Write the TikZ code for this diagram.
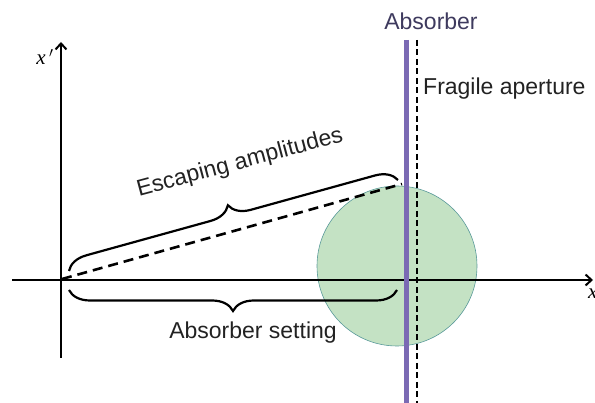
\documentclass[tikz,border=0pt]{standalone}
\usepackage{fontspec}
\setmainfont{Liberation Sans}
\newfontfamily\serifit{Liberation Serif}
\usetikzlibrary{arrows.meta,decorations.pathreplacing}
\definecolor{txt}{HTML}{222222}
\definecolor{abscol}{HTML}{3E3A5E}
\definecolor{barcol}{HTML}{7B6AB4}
\definecolor{circfill}{HTML}{C4E2C4}
\definecolor{circedge}{HTML}{5A9A9A}
\tikzset{
  axis/.style={line width=2pt,-{Straight Barb[length=6pt,width=11pt,line width=2pt]}},
  bracestyle/.style={line width=2.2pt,decorate,decoration={brace,amplitude=21pt,raise=0pt}},
  lbl/.style={font=\fontsize{23}{26}\selectfont,text=txt,inner sep=0pt},
  dashline/.style={line width=2.6pt,dash pattern=on 10pt off 6pt},
}
\begin{document}
\begin{tikzpicture}[x=1pt,y=-1pt]
\useasboundingbox (0,0) rectangle (595,403);
% circle
\node[circle,minimum size=160pt,inner sep=0pt,fill=circfill,draw=circedge,line width=0.6pt] (beam) at (397,266) {};
% axes
\coordinate (xs) at (12,280);
\coordinate (xe) at (593,280);
\coordinate (ys) at (61,358);
\coordinate (ye) at (61,42);
\draw[axis] (xs) -- (xe);
\draw[axis] (ys) -- (ye);
\node[font=\serifit\itshape\fontsize{21}{23}\selectfont,inner sep=0pt] (xplab) at (45,57) {x\,$'$};
\node[font=\serifit\itshape\fontsize{21}{23}\selectfont,inner sep=0pt,anchor=west] (xlab) at (588,294) {x};
% absorber bar and fragile aperture
\coordinate (bt) at (406,40);
\coordinate (bb) at (406,403);
\draw[barcol,line width=5pt] (bt) -- (bb);
\coordinate (dt) at (417,40);
\coordinate (db) at (417,403);
\draw[black,line width=2.2pt,dash pattern=on 6pt off 3.5pt] (dt) -- (db);
\node[lbl,text=abscol] (abs) at (431,21) {Absorber};
\node[lbl,anchor=west] (frag) at (423,89) {Fragile aperture};
% escaping amplitude dashed line
\coordinate (o) at (62,279);
\coordinate (top) at (402,184);
\draw[dashline] (o) -- (top);
% braces
\coordinate (b1s) at (69,271);
\coordinate (b1e) at (398,180);
\draw[bracestyle] (b1s) -- (b1e);
\node[lbl,rotate=15] (esc) at (240,163) {Escaping amplitudes};
\coordinate (b2s) at (397,290);
\coordinate (b2e) at (69,290);
\draw[bracestyle] (b2s) -- (b2e);
\node[lbl] (set) at (253,333) {Absorber setting};
\end{tikzpicture}
\end{document}
